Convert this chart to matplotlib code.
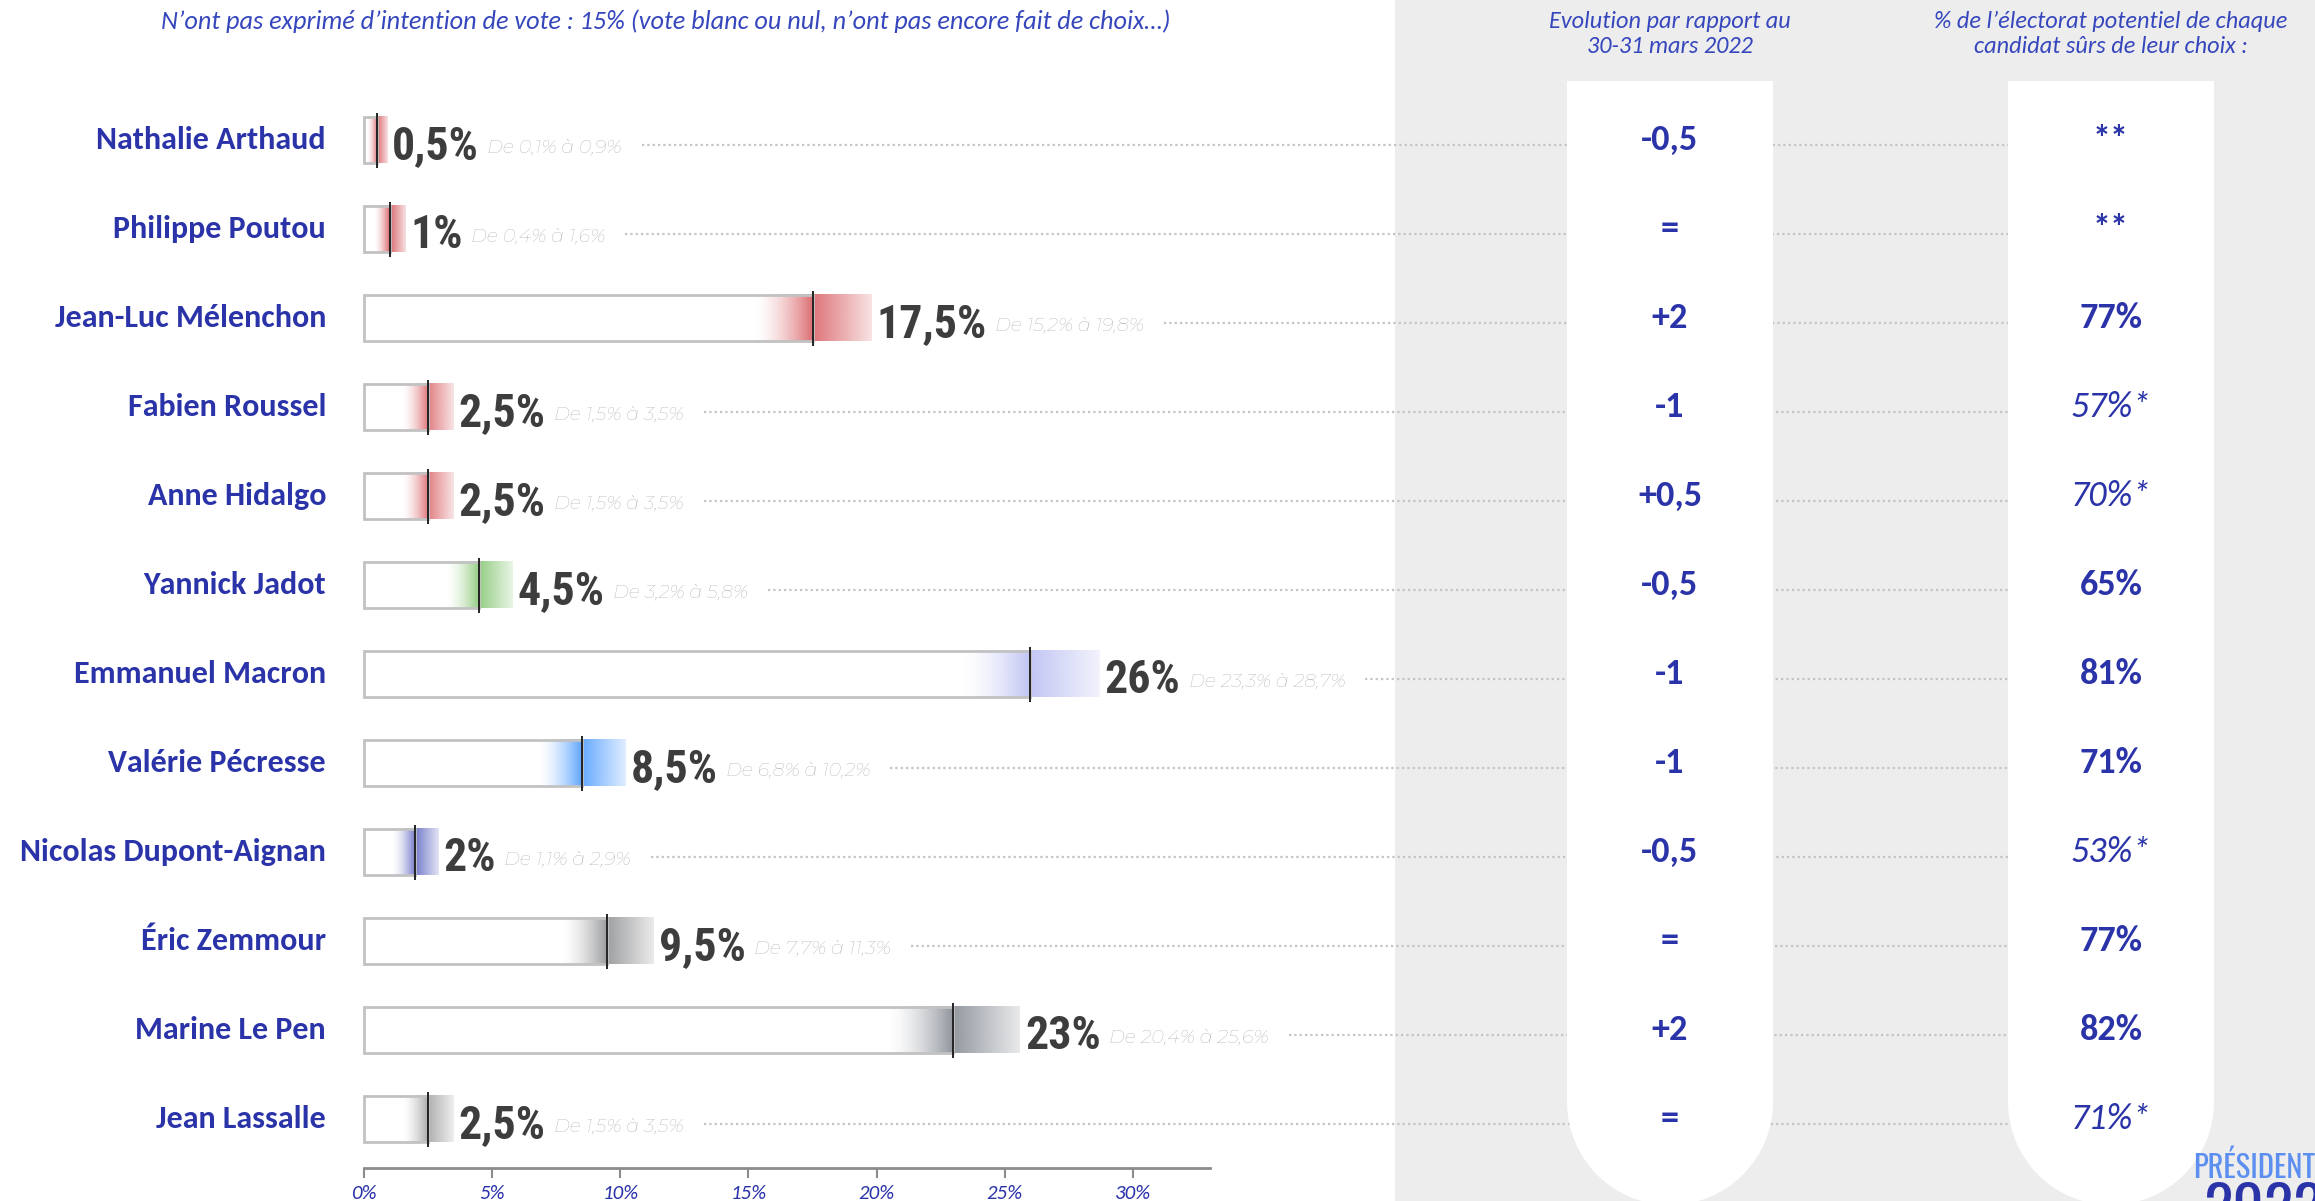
import numpy as np
import matplotlib
matplotlib.use("Agg")
import matplotlib.pyplot as plt
from matplotlib import transforms
from matplotlib.patches import Rectangle, Circle
from matplotlib.colors import to_rgba

# ---- data ----
names = ["Nathalie Arthaud", "Philippe Poutou", "Jean-Luc Mélenchon", "Fabien Roussel",
         "Anne Hidalgo", "Yannick Jadot", "Emmanuel Macron", "Valérie Pécresse",
         "Nicolas Dupont-Aignan", "Éric Zemmour", "Marine Le Pen", "Jean Lassalle"]
values = [0.5, 1, 17.5, 2.5, 2.5, 4.5, 26, 8.5, 2, 9.5, 23, 2.5]
low = [0.1, 0.4, 15.2, 1.5, 1.5, 3.2, 23.3, 6.8, 1.1, 7.7, 20.4, 1.5]
high = [0.9, 1.6, 19.8, 3.5, 3.5, 5.8, 28.7, 10.2, 2.9, 11.3, 25.6, 3.5]
evolution = ["-0,5", "=", "+2", "-1", "+0,5", "-0,5", "-1", "-1", "-0,5", "=", "+2", "="]
sure = ["**", "**", "77%", "57%*", "70%*", "65%", "81%", "71%", "53%*", "77%", "82%", "71%*"]
ticks = [0, 5, 10, 15, 20, 25, 30]

# ---- styles ----
colors = ["#D9666B", "#D9666B", "#DC6E72", "#E07A7E", "#E07A7E", "#8FCB7E",
          "#BFC3F3", "#5FA6FF", "#6E76C8", "#999A9C", "#8E939B", "#ABABAB"]
BLUE = "#2A33A8"
HEAD_BLUE = "#3647BD"
CALIBRI = ["Carlito", "Lato", "DejaVu Sans"]
COND = ["Roboto Condensed", "Open Sans Condensed", "IBM Plex Sans Condensed", "DejaVu Sans"]
THIN = ["Montserrat", "Lato", "DejaVu Sans"]
W, H = 2315, 1201


def fmt(v):
    return f"{v:g}".replace(".", ",")


fig = plt.figure(figsize=(W / 100, H / 100), dpi=100)
ax = fig.add_axes([0, 0, 1, 1])

# axis scale: 0% at x=364px, 25.63px per percent ; rows every 89px starting 140px
X0, PPP = 364, 25.63
ROW0, ROWH = 140.3, 89.0

blend = transforms.blended_transform_factory(fig.transFigure, ax.transData)

# grey panel and white columns (pixel layout)
ax.add_patch(Rectangle((1395 / W, 0), 1, 1, transform=ax.transAxes,
                       facecolor="#EDEDED", edgecolor="none", zorder=0))
for left in (1567, 2008):
    w = 206
    ax.add_patch(Rectangle((left / 100, 0.99), w / 100, (H - 81) / 100 - 0.99,
                           transform=fig.dpi_scale_trans, facecolor="white",
                           edgecolor="none", zorder=1.5))
    ax.add_patch(Circle(((left + w / 2) / 100, 0.99), w / 200,
                        transform=fig.dpi_scale_trans, facecolor="white",
                        edgecolor="none", zorder=1.5))

rows = np.arange(len(names))
bh = 0.52

# bars with gradient over the confidence interval
ax.barh(rows, values, height=bh, left=0, color="white", edgecolor="none", zorder=2)
for i, (v, lo, hi, c) in enumerate(zip(values, low, high, colors)):
    rgba = np.array(to_rgba(c))
    n = 64
    t = np.linspace(0, 1, n)
    g_left = np.tile(rgba, (1, n, 1))
    g_left[0, :, 3] = t ** 1.6
    ax.imshow(g_left, extent=[lo, v, i + bh / 2, i - bh / 2], aspect="auto",
              interpolation="bilinear", zorder=3)
    g_right = np.tile(rgba, (1, n, 1))
    g_right[0, :, 3] = 0.95 - 0.75 * t
    ax.imshow(g_right, extent=[v, hi, i + bh / 2, i - bh / 2], aspect="auto",
              interpolation="bilinear", zorder=3)
ax.barh(rows, values, height=bh, left=0, fill=False, edgecolor="#C2C2C2",
        linewidth=2, zorder=4)
ax.vlines(values, rows - 0.31, rows + 0.31, color="#222222", linewidth=1.4, zorder=5)

ax.set_xlim(-X0 / PPP, (W - X0) / PPP)
ax.set_ylim((H - ROW0) / ROWH, -ROW0 / ROWH)

# labels
ci_texts = []
for i in rows:
    ax.text(-1.48, i, names[i], ha="right", va="center", fontsize=23,
            fontweight="bold", family=CALIBRI, color=BLUE)
    vt = ax.text(high[i] + 0.2, i + 0.06, fmt(values[i]) + "%", ha="left", va="center",
                 fontsize=33, fontweight="bold", family=COND, color="#3D3D3D")
    ct = ax.annotate(f"De {fmt(low[i])}% à {fmt(high[i])}%", xy=(1, 0.5), xycoords=vt,
                     xytext=(6, -1), textcoords="offset points", ha="left", va="center",
                     fontsize=13.8, fontstyle="italic", fontweight="normal",
                     family=THIN, color="#A9A9A9")
    ci_texts.append(ct)
    ax.text(1670 / W, i, evolution[i], transform=blend, ha="center", va="center",
            fontsize=26, fontweight="bold", family=CALIBRI, color=BLUE, zorder=6)
    italic = sure[i].endswith("*") and sure[i] != "**"
    ax.text(2111 / W, i, sure[i], transform=blend,
            ha="center", va="center", fontsize=26,
            fontweight="normal" if italic else "bold",
            fontstyle="italic" if italic else "normal",
            family=CALIBRI, color=BLUE, zorder=6)

# dotted leaders
fig.canvas.draw()
r = fig.canvas.get_renderer()
for i, ct in enumerate(ci_texts):
    x1 = ct.get_window_extent(r).x1 + 20
    ax.plot([x1 / W, 2008 / W], [i + 0.05, i + 0.05], transform=blend,
            color="#C4C4C4", linewidth=1.6, linestyle=(0, (1, 1.4)), zorder=1)

# x axis
for s in ["top", "left", "right"]:
    ax.spines[s].set_visible(False)
ax.spines["bottom"].set_position(("data", (1168 - ROW0) / ROWH))
ax.spines["bottom"].set_bounds(0, 33)
ax.spines["bottom"].set_color("#8C8C8C")
ax.spines["bottom"].set_linewidth(2)
ax.set_yticks([])
ax.set_xticks(ticks)
ax.set_xticklabels([f"{t}%" for t in ticks])
ax.tick_params(axis="x", direction="out", length=7, width=1.5, color="#8C8C8C",
               labelcolor=BLUE, labelsize=15, pad=5)
for lbl in ax.get_xticklabels():
    lbl.set_fontstyle("italic")
    lbl.set_family(CALIBRI)

# headers
fig.text(666 / W, 1 - 21 / H,
         "N’ont pas exprimé d’intention de vote : 15% (vote blanc ou nul, n’ont pas encore fait de choix…)",
         ha="center", va="center", fontsize=18.9, fontstyle="italic", family=CALIBRI,
         color=HEAD_BLUE)
fig.text(1670 / W, 1 - 34 / H, "Evolution par rapport au\n30-31 mars 2022",
         ha="center", va="center", fontsize=17.5, fontstyle="italic", family=CALIBRI,
         color=HEAD_BLUE, linespacing=1.2)
fig.text(2111 / W, 1 - 34 / H, "% de l’électorat potentiel de chaque\ncandidat sûrs de leur choix :",
         ha="center", va="center", fontsize=17.5, fontstyle="italic", family=CALIBRI,
         color=HEAD_BLUE, linespacing=1.2)

# logo (cut off at the edge, as in the source)
fig.text(2193 / W, 1 - 1168 / H, "PRÉSIDENTIELLE", ha="left", va="center", fontsize=22,
         family=["Oswald"] + COND, color="#5C8FEF")
fig.text(2203 / W, 1 - 1182 / H, "2022", ha="left", va="top", fontsize=44,
         fontweight="bold", family=["Oswald"] + COND, color=BLUE)

fig.savefig("out.png", dpi=100)
